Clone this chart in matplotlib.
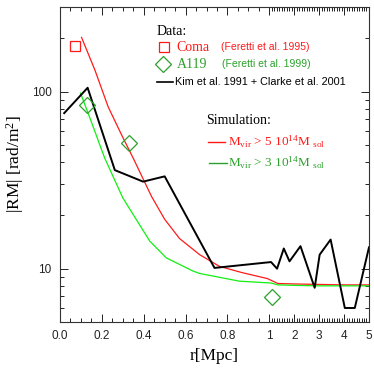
import matplotlib
matplotlib.use("Agg")
import matplotlib.pyplot as plt
import numpy as np
from matplotlib.lines import Line2D

plt.rcParams['font.family'] = 'Liberation Sans'
plt.rcParams['mathtext.fontset'] = 'custom'
plt.rcParams['mathtext.rm'] = 'Liberation Serif'
plt.rcParams['mathtext.it'] = 'Liberation Serif'

# Datos observados (Kim et al. 1991 + Clarke et al. 2001)
obs_r = [0.02, 0.132, 0.262, 0.397, 0.50, 0.738, 1.07, 1.31, 1.58, 1.81,
         2.25, 2.82, 3.02, 3.46, 4.03, 4.43, 5.0]
obs_rm = [75.5, 105, 36, 31, 33.2, 10.1, 10.9, 10.0, 13.0, 11.0,
          13.4, 7.8, 12.0, 14.6, 6.0, 6.0, 13.2]

# Coma y A119 (Feretti et al.)
coma_r = [0.071]
coma_rm = [181]
a119_r = [0.127, 0.33, 1.09]
a119_rm = [83.5, 51, 6.9]

# Simulaciones
sim5_r = [0.103, 0.167, 0.23, 0.294, 0.35, 0.437, 0.5, 0.571, 0.667, 0.762,
          0.87, 0.99, 1.34, 2, 3, 4, 5]
sim5_rm = [202, 132, 82, 57, 42, 25.6, 19, 14.8, 12.0, 10.3,
           9.5, 8.8, 8.25, 8.2, 8.15, 8.1, 8.1]
sim3_r = [0.098, 0.157, 0.19, 0.214, 0.30, 0.429, 0.508, 0.635, 0.667, 0.857,
          1.07, 1.34, 2, 3, 5]
sim3_rm = [98, 64, 50, 42, 25.1, 14.3, 11.5, 9.7, 9.4, 8.5,
           8.3, 8.1, 8.05, 8.0, 8.0]

# Escala de x: lineal hasta 1 Mpc, comprimida despues
K = 0.119


def fwd(x):
    x = np.asarray(x, dtype=float)
    return np.where(x <= 1, x, 1 + (x - 1) * K)


def inv(u):
    u = np.asarray(u, dtype=float)
    return np.where(u <= 1, u, 1 + (u - 1) / K)


RED = '#ff1a1a'
GREEN_LINE = '#11f011'
GREEN = '#2ca02c'

fig = plt.figure(figsize=(3.74, 3.74), dpi=100)
ax = fig.add_axes([0.1604, 0.139, 0.8262, 0.8423])
ax.set_xscale('function', functions=(fwd, inv))
ax.set_yscale('log')
ax.set_xlim(0, 5)
ax.set_ylim(5, 300)

ax.plot(sim5_r, sim5_rm, color=RED, lw=0.9)
ax.plot(sim3_r, sim3_rm, color=GREEN_LINE, lw=0.9)
ax.plot(obs_r, obs_rm, color='black', lw=1.4)
ax.plot(coma_r, coma_rm, 's', ms=7.5, mfc='none', mec=RED, mew=0.9)
ax.plot(a119_r, a119_rm, 'D', ms=8, mfc='none', mec=GREEN, mew=0.9)

major = [0, 0.2, 0.4, 0.6, 0.8, 1, 2, 3, 4, 5]
labels = ['0.0', '0.2', '0.4', '0.6', '0.8', '1', '2', '3', '4', '5']
ax.set_xticks(major)
ax.set_xticklabels(labels)
minor = list(np.arange(0.05, 1.0, 0.05)) + list(np.arange(1.1, 5.0, 0.1))
ax.set_xticks(minor, minor=True)
ax.set_yticks([10, 100])
ax.set_yticklabels(['10', '100'])

ax.tick_params(which='both', direction='in', top=True, right=True,
               labelsize=8.5, colors='#222222', width=0.7)
ax.tick_params(which='major', length=5.5, pad=6)
ax.tick_params(which='minor', length=3)
for s in ax.spines.values():
    s.set_linewidth(0.8)
    s.set_color('#333333')

ax.set_xlabel('r[Mpc]', family='Liberation Serif', fontsize=12.5, labelpad=4)
ax.set_ylabel('|RM| [rad/m$^2$]', family='Liberation Serif', fontsize=12.5,
              labelpad=4)

# Leyenda manual
tr = ax.transAxes
ax.text(0.314, 0.921, 'Data:', transform=tr, family='Liberation Serif',
        fontsize=10, va='center')
ax.add_line(Line2D([0.337], [0.873], marker='s', ms=7.5, mfc='none', mec=RED,
                   mew=0.9, transform=tr))
ax.text(0.378, 0.873, 'Coma', transform=tr, family='Liberation Serif',
        fontsize=10, color=RED, va='center')
ax.text(0.52, 0.873, '(Feretti et al. 1995)', transform=tr, fontsize=7.5,
        color=RED, va='center')
ax.add_line(Line2D([0.334], [0.819], marker='D', ms=8, mfc='none', mec=GREEN,
                   mew=0.9, transform=tr))
ax.text(0.378, 0.819, 'A119', transform=tr, family='Liberation Serif',
        fontsize=10, color=GREEN, va='center')
ax.text(0.523, 0.819, '(Feretti et al. 1999)', transform=tr, fontsize=7.5,
        color=GREEN, va='center')
ax.add_line(Line2D([0.314, 0.366], [0.762, 0.762], color='black', lw=1.2,
                   transform=tr))
ax.text(0.372, 0.762, 'Kim et al. 1991 + Clarke et al. 2001', transform=tr,
        fontsize=7.8, va='center')

ax.text(0.472, 0.641, 'Simulation:', transform=tr, family='Liberation Serif',
        fontsize=10, va='center')
ax.add_line(Line2D([0.479, 0.534], [0.573, 0.573], color=RED, lw=1.0,
                   transform=tr))
sim5_lbl = r'M$_{\mathrm{vir}}$ > 5 10$^{14}$M $_{\mathrm{sol}}$'
sim3_lbl = r'M$_{\mathrm{vir}}$ > 3 10$^{14}$M $_{\mathrm{sol}}$'
ax.text(0.545, 0.573, sim5_lbl, transform=tr, family='Liberation Serif',
        fontsize=9.5, color=RED, va='center')
ax.add_line(Line2D([0.482, 0.539], [0.506, 0.506], color=GREEN, lw=1.0,
                   transform=tr))
ax.text(0.545, 0.506, sim3_lbl, transform=tr, family='Liberation Serif',
        fontsize=9.5, color=GREEN, va='center')

fig.savefig('out.png', dpi=100)
